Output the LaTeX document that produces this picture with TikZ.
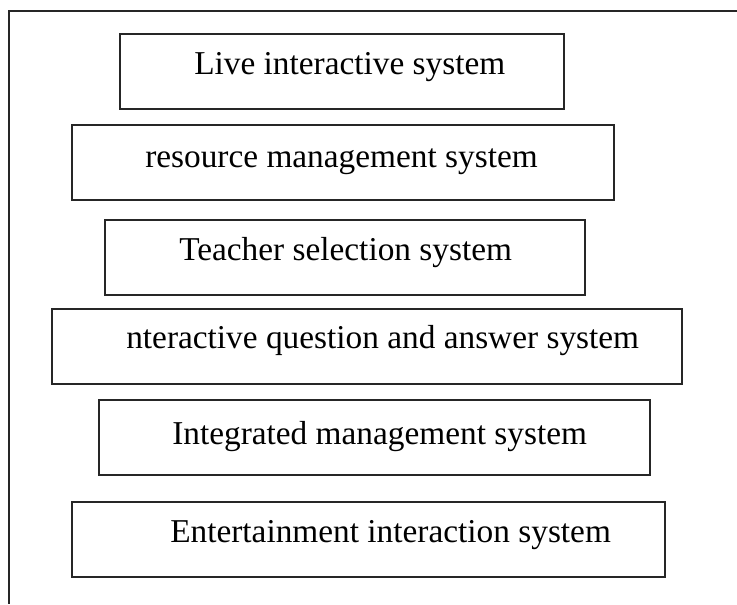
\documentclass[tikz,border=0pt]{standalone}
\usepackage{fontspec}
\setmainfont{Liberation Serif}
\tikzset{
  sysbox/.style={draw=black!85, line width=1.2pt, inner sep=0pt, minimum height=56.25pt},
  systext/.style={inner sep=0pt, anchor=base west, font=\fontsize{25}{30}\selectfont}
}
\begin{document}
\begin{tikzpicture}[x=0.75pt,y=0.75pt,yscale=-1,xscale=1]
\useasboundingbox (0,0) rectangle (737,604);

%Frame
\draw [color=black!85, line width=1.5pt] (737,11) -- (9,11) -- (9,604) ;

%Shape: Rectangle
\node [sysbox, minimum width=333pt] (live) at (342,71.5) {};
\node [systext] (livetxt) at (194,74) {Live interactive system};
%Shape: Rectangle
\node [sysbox, minimum width=406.5pt] (resource) at (343,162.5) {};
\node [systext] (resourcetxt) at (145,167) {resource management system};
%Shape: Rectangle
\node [sysbox, minimum width=360pt] (teacher) at (345,257.5) {};
\node [systext] (teachertxt) at (179,260) {Teacher selection system};
%Shape: Rectangle
\node [sysbox, minimum width=472.5pt] (qa) at (367,346.5) {};
\node [systext] (qatxt) at (126,348) {nteractive question and answer system};
%Shape: Rectangle
\node [sysbox, minimum width=413.25pt] (integrated) at (374.5,437.5) {};
\node [systext] (integratedtxt) at (172,444) {Integrated management system};
%Shape: Rectangle
\node [sysbox, minimum width=444.75pt] (entertain) at (368.5,539.5) {};
\node [systext] (entertaintxt) at (170,542) {Entertainment interaction system};

\end{tikzpicture}
\end{document}
